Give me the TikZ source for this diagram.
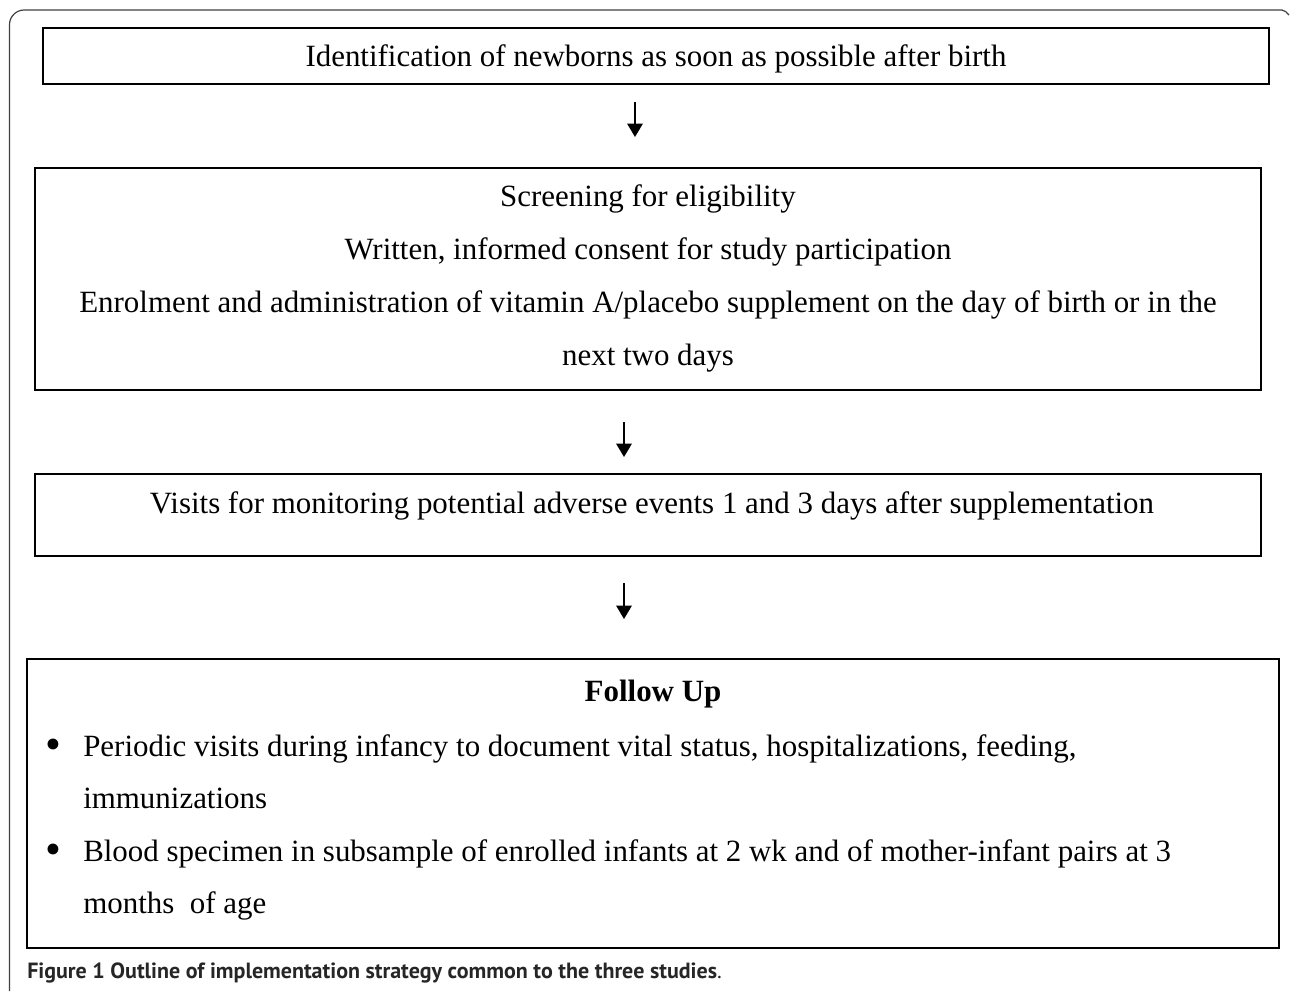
\documentclass[tikz,border=0pt]{standalone}
\usepackage{fontspec}
\setmainfont{Liberation Serif}
\newfontfamily\capfont{PT Sans}
\usetikzlibrary{arrows.meta}
\begin{document}
\begin{tikzpicture}[x=0.75pt,y=-0.75pt,
  box/.style={draw=black,line width=1.8pt,rectangle,inner sep=0pt},
  txt/.style={inner sep=0pt,anchor=base,font=\fontsize{23.2}{27}\selectfont},
  ltxt/.style={inner sep=0pt,anchor=base west,font=\fontsize{23.2}{27}\selectfont},
  bul/.style={inner sep=0pt,anchor=base,font=\fontsize{34}{34}\selectfont},
  flow/.style={line width=1.5pt,-{Triangle[width=11.5pt,length=10pt]}},
  frame/.style={draw=black!75,line width=0.9pt}]
\useasboundingbox (0,0) rectangle (1290,992);
% outer frame
\draw[frame,rounded corners=11pt] (9.5,991) -- (9.5,10) -- (1282,10);
\draw[frame] (1282,10) to[out=0,in=140] (1289,15);
% boxes
\node[box,minimum width=919.5pt,minimum height=42pt] (b1) at (656,56) {};
\node[box,minimum width=919.5pt,minimum height=166.5pt] (b2) at (648,279) {};
\node[box,minimum width=919.5pt,minimum height=61.5pt] (b3) at (648,515) {};
\node[box,minimum width=939pt,minimum height=216.75pt] (b4) at (653,803.5) {};
% texts
\node[txt] (t1) at (656,66) {Identification of newborns as soon as possible after birth};
\node[txt] (t2a) at (648,206) {Screening for eligibility};
\node[txt] (t2b) at (648,259) {Written, informed consent for study participation};
\node[txt] (t2c) at (648,312) {Enrolment and administration of vitamin A/placebo supplement on the day of birth or in the};
\node[txt] (t2d) at (648,365) {next two days};
\node[txt] (t3) at (652,513) {Visits for monitoring potential adverse events 1 and 3 days after supplementation};
\node[txt] (t4) at (653,701) {\textbf{Follow Up}};
\node[bul] (bu1) at (53,759) {\textbullet};
\node[ltxt] (l1) at (83,756) {Periodic visits during infancy to document vital status, hospitalizations, feeding,};
\node[ltxt] (l2) at (83,808) {immunizations};
\node[bul] (bu2) at (53,864) {\textbullet};
\node[ltxt] (l3) at (83,861) {Blood specimen in subsample of enrolled infants at 2 wk and of mother-infant pairs at 3};
\node[ltxt] (l4) at (83,913) {months~ of age};
% arrows
\coordinate (a1s) at (635,102); \coordinate (a1e) at (635,137);
\coordinate (a2s) at (624,422); \coordinate (a2e) at (624,457);
\coordinate (a3s) at (624,583); \coordinate (a3e) at (624,619);
\draw[flow] (a1s) -- (a1e);
\draw[flow] (a2s) -- (a2e);
\draw[flow] (a3s) -- (a3e);
% caption
\node[inner sep=0pt,anchor=base west,font=\capfont\fontsize{16.5}{18}\selectfont,text=black!85] (cap) at (27,978)
  {\textbf{Figure 1 Outline of implementation strategy common to the three studies}.};
\end{tikzpicture}
\end{document}
